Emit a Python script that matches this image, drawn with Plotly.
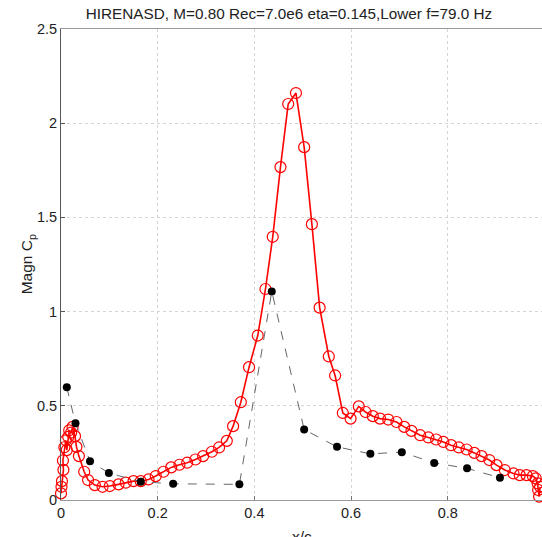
import plotly.graph_objects as go

# lower surface, measured (red open circles)
red_x = [0.000, 0.001, 0.002, 0.005, 0.004, 0.007, 0.010, 0.012, 0.015, 0.017,
         0.021, 0.024, 0.029, 0.032, 0.037, 0.048, 0.056, 0.070, 0.086, 0.101,
         0.119, 0.134, 0.150, 0.165, 0.181, 0.196, 0.212, 0.228, 0.245, 0.261,
         0.278, 0.294, 0.312, 0.327, 0.343, 0.356, 0.372, 0.389, 0.407, 0.423,
         0.438, 0.454, 0.470, 0.486, 0.503, 0.519, 0.535, 0.554, 0.567, 0.583,
         0.599, 0.616, 0.630, 0.645, 0.660, 0.677, 0.694, 0.710, 0.725, 0.743,
         0.760, 0.776, 0.791, 0.807, 0.823, 0.839, 0.855, 0.870, 0.886, 0.901,
         0.918, 0.936, 0.949, 0.963, 0.976, 0.982, 0.986, 0.987, 0.989, 0.991]
red_y = [0.035, 0.070, 0.100, 0.160, 0.210, 0.280, 0.317, 0.265, 0.335, 0.370,
         0.358, 0.388, 0.339, 0.282, 0.233, 0.150, 0.106, 0.079, 0.070, 0.074,
         0.083, 0.092, 0.100, 0.100, 0.109, 0.127, 0.150, 0.173, 0.187, 0.198,
         0.215, 0.233, 0.256, 0.279, 0.314, 0.392, 0.519, 0.705, 0.873, 1.120,
         1.397, 1.767, 2.102, 2.160, 1.873, 1.464, 1.021, 0.762, 0.661, 0.462,
         0.432, 0.497, 0.467, 0.445, 0.432, 0.427, 0.414, 0.388, 0.367, 0.344,
         0.332, 0.321, 0.308, 0.291, 0.279, 0.268, 0.250, 0.233, 0.212, 0.185,
         0.159, 0.141, 0.132, 0.132, 0.127, 0.115, 0.088, 0.053, 0.018, 0.070]

# second series (black dots, dashed)
blk_x = [0.012, 0.030, 0.060, 0.099, 0.165, 0.232, 0.369, 0.436,
         0.503, 0.571, 0.640, 0.705, 0.772, 0.840, 0.908]
blk_y = [0.598, 0.407, 0.206, 0.143, 0.097, 0.086, 0.083, 1.107,
         0.374, 0.282, 0.245, 0.254, 0.197, 0.168, 0.118]

x_ticks = [0, 0.2, 0.4, 0.6, 0.8]
x_labels = ["0", "0.2", "0.4", "0.6", "0.8"]
y_ticks = [0, 0.5, 1, 1.5, 2, 2.5]
y_labels = ["0", "0.5", "1", "1.5", "2", "2.5"]

font = "Liberation Sans, Arial, sans-serif"

fig = go.Figure()
fig.add_trace(go.Scatter(
    x=red_x, y=red_y, mode="lines+markers", cliponaxis=False,
    line=dict(color="#ff0000", width=1.6),
    marker=dict(symbol="circle-open", size=11, color="#ff0000", line=dict(width=1.2)),
))
fig.add_trace(go.Scatter(
    x=blk_x, y=blk_y, mode="lines+markers", cliponaxis=False,
    line=dict(color="#666666", width=1, dash="dash"),
    marker=dict(symbol="circle", size=8, color="#000000"),
))

fig.update_layout(
    width=542, height=537,
    margin=dict(l=61, r=0, t=29, b=37),
    paper_bgcolor="white", plot_bgcolor="white",
    showlegend=False,
    font=dict(family=font, size=14.5, color="#222222"),
    title=dict(text="HIRENASD, M=0.80 Rec=7.0e6 eta=0.145,Lower f=79.0 Hz",
               x=0.533, xanchor="center", y=0.975, yanchor="middle",
               font=dict(family=font, size=15.3, color="#222222")),
)
fig.update_xaxes(
    range=[0, 0.995], tickvals=x_ticks, ticktext=x_labels,
    showgrid=True, gridcolor="#d4d4d4", griddash="dot", gridwidth=1,
    showline=True, linecolor="#999999", linewidth=1, mirror=True,
    ticks="inside", ticklen=4, tickcolor="#777777", zeroline=False,
)
fig.update_yaxes(
    range=[0, 2.5], tickvals=y_ticks, ticktext=y_labels,
    showgrid=True, gridcolor="#d4d4d4", griddash="dot", gridwidth=1,
    showline=True, linecolor="#555555", linewidth=1, mirror=False,
    ticks="inside", ticklen=4, tickcolor="#555555", zeroline=False,
)
fig.add_annotation(text="Magn C<sub>p</sub>", xref="paper", yref="paper",
                   x=-0.069, y=0.5, textangle=-90, showarrow=False,
                   xanchor="center", yanchor="middle",
                   font=dict(family=font, size=15.5, color="#222222"))
fig.add_annotation(text="x/c", xref="paper", yref="paper",
                   x=0.5, y=-0.077, showarrow=False,
                   xanchor="center", yanchor="middle",
                   font=dict(family=font, size=15.5, color="#222222"))

# the page body has a default 8px margin; drop it so the figure fills the window
fig.write_html("out.html", config={"displayModeBar": False},
               post_script="document.body.style.margin='0';document.body.style.overflow='hidden';")
